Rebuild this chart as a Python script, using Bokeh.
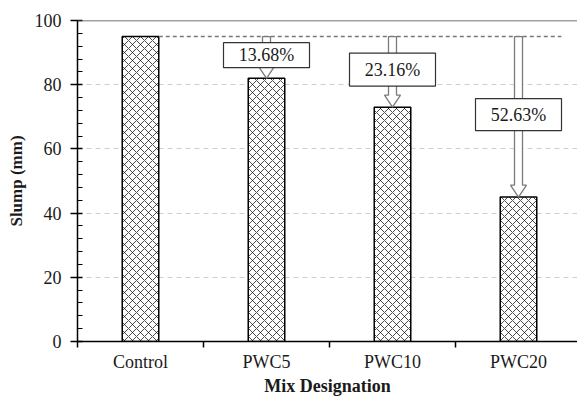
from bokeh.plotting import figure
from bokeh.models import FixedTicker, Span, ColumnDataSource
from bokeh.core.properties import value
from bokeh.embed import file_html
from bokeh.resources import INLINE

categories = ["Control", "PWC5", "PWC10", "PWC20"]
slump = [95, 82, 73, 45]
y_ticks = [0, 20, 40, 60, 80, 100]

FONT = "Liberation Serif"
PX_PER_CAT = 126.0
PX_PER_MM = 3.21
W, H = 577, 398
LEFT = 77
frame_w = W - LEFT
x_end = frame_w / PX_PER_CAT

p = figure(width=W, height=H, output_backend="svg", toolbar_location=None,
           x_range=(0, x_end), y_range=(0, 100),
           min_border_left=LEFT, min_border_right=0, min_border_top=20,
           min_border_bottom=57)
p.outline_line_color = None
p.background_fill_color = "white"
p.border_fill_color = "white"

centers = [i + 0.5 for i in range(len(categories))]

# y grid
p.xgrid.visible = False
p.ygrid.grid_line_color = "#cfcfcf"
p.ygrid.grid_line_dash = "5 4"
p.ygrid.grid_line_width = 1

# top border line
p.add_layout(Span(location=100, dimension="width", line_color="#444444", line_width=1.5))

# bars
src = ColumnDataSource(dict(x=centers, top=slump))
p.vbar(x="x", top="top", bottom=0, width=0.29, source=src,
       fill_color="white", line_color="black", line_width=1.5,
       hatch_pattern="diagonal_cross", hatch_color="black",
       hatch_scale=8, hatch_weight=0.7)

# dashed reference line at control level
bar_half = 0.145
p.segment(x0=[centers[0] + bar_half], y0=[slump[0]], x1=[centers[-1] + 0.34], y1=[slump[0]],
          line_color="#777777", line_width=1.5, line_dash="4 3")

# arrows
hw = 4 / PX_PER_CAT
hh = 8 / PX_PER_CAT
hl = 12 / PX_PER_MM
xs, ys = [], []
for c, v in zip(centers[1:], slump[1:]):
    y0 = slump[0]
    xs.append([c - hw, c + hw, c + hw, c + hh, c, c - hh, c - hw])
    ys.append([y0, y0, v + hl, v + hl, v, v + hl, v + hl])
p.patches(xs, ys, fill_color="white", line_color="#7a7a7a", line_width=1.3)

# percentage boxes
pct = ["%.2f%%" % ((slump[0] - v) / slump[0] * 100) for v in slump[1:]]
box_y = [(slump[0] + v) / 2 + 0.7 for v in slump[1:]]
box_h = [25, 33, 32]
p.rect(x=centers[1:], y=box_y, width=86, height=box_h, width_units="screen",
       height_units="screen", fill_color="white", line_color="#333333", line_width=1.2)
p.text(x=centers[1:], y=box_y, text=pct, text_align="center", text_baseline="middle",
       text_font=value(FONT), text_font_size="18px", text_color="#1a1a1a")

# x axis
xa = p.xaxis[0]
xa.ticker = FixedTicker(ticks=centers, minor_ticks=[0, 1, 2, 3, 4])
xa.major_label_overrides = {c: n for c, n in zip(centers, categories)}
xa.major_tick_out = 0
xa.major_tick_in = 0
xa.minor_tick_out = 6
xa.minor_tick_in = 0
xa.minor_tick_line_color = "black"
xa.minor_tick_line_width = 1.5
xa.axis_line_color = "black"
xa.axis_line_width = 1.5
xa.major_label_standoff = 4
xa.major_label_text_font = FONT
xa.major_label_text_font_size = "18px"
xa.major_label_text_color = "#1a1a1a"
xa.axis_label = "Mix Designation"
xa.axis_label_text_font = FONT
xa.axis_label_text_font_style = "bold"
xa.axis_label_text_font_size = "18px"
xa.axis_label_text_color = "#1a1a1a"
xa.axis_label_standoff = 1

# y axis
ya = p.yaxis[0]
minor = [v for v in range(0, 101, 4) if v % 20 != 0]
ya.ticker = FixedTicker(ticks=y_ticks, minor_ticks=minor)
ya.major_tick_out = 7
ya.major_tick_in = 5
ya.minor_tick_out = 0
ya.minor_tick_in = 5
ya.major_tick_line_width = 1.5
ya.minor_tick_line_width = 1.2
ya.axis_line_color = "black"
ya.axis_line_width = 1.5
ya.major_label_standoff = 9
ya.major_label_text_font = FONT
ya.major_label_text_font_size = "18px"
ya.major_label_text_color = "#1a1a1a"
ya.axis_label = "Slump (mm)"
ya.axis_label_text_font = FONT
ya.axis_label_text_font_style = "bold"
ya.axis_label_text_font_size = "17px"
ya.axis_label_text_color = "#1a1a1a"
ya.axis_label_standoff = 6

open("out.html", "w").write(file_html(p, INLINE))
